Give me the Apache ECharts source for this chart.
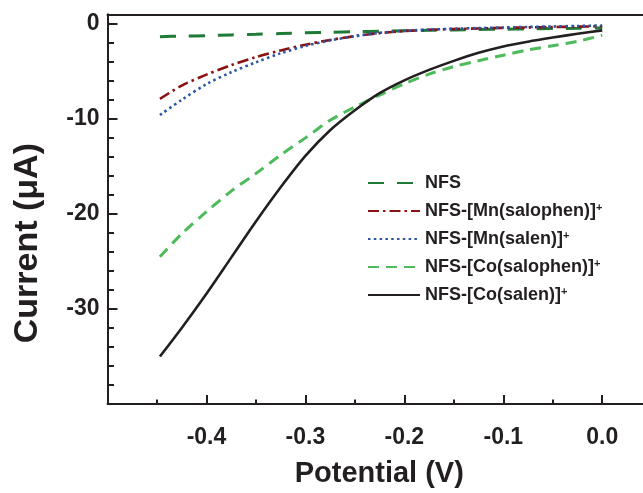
<!DOCTYPE html>
<html>
<head>
<meta charset="utf-8">
<script src="https://cdn.jsdelivr.net/npm/echarts@6/dist/echarts.min.js"></script>
<style>
html,body{margin:0;padding:0;background:#fff;overflow:hidden;}
#chart{width:643px;height:493px;}
</style>
</head>
<body>
<div id="chart"></div>
<script>
// ---- data ----
const potential = [-0.447, -0.425, -0.4, -0.375, -0.35, -0.325, -0.3, -0.275, -0.25, -0.225, -0.2, -0.175, -0.15, -0.125, -0.1, -0.075, -0.05, -0.025, 0];
const nfs        = [-1.35, -1.3, -1.25, -1.17, -1.1, -1.02, -0.95, -0.89, -0.83, -0.77, -0.72, -0.68, -0.64, -0.6, -0.57, -0.53, -0.5, -0.47, -0.43];
const mnSalophen = [-7.9, -6.5, -5.35, -4.35, -3.5, -2.8, -2.2, -1.7, -1.3, -0.98, -0.76, -0.63, -0.55, -0.49, -0.43, -0.38, -0.34, -0.3, -0.25];
const mnSalen    = [-9.6, -8.0, -6.35, -5.1, -4.05, -3.1, -2.33, -1.75, -1.3, -0.95, -0.74, -0.61, -0.52, -0.45, -0.39, -0.33, -0.28, -0.23, -0.18];
const coSalophen = [-24.5, -22.1, -19.77, -17.6, -15.75, -13.8, -12.0, -10.15, -8.75, -7.5, -6.3, -5.3, -4.5, -3.88, -3.3, -2.75, -2.3, -1.85, -1.2];
const coSalen    = [-35.0, -32.0, -28.4, -24.6, -20.8, -17.2, -13.9, -11.2, -9.1, -7.3, -5.95, -4.85, -3.9, -3.05, -2.38, -1.88, -1.45, -1.05, -0.69];
const seriesNames = ['NFS', 'NFS-[Mn(salophen)]', 'NFS-[Mn(salen)]', 'NFS-[Co(salophen)]', 'NFS-[Co(salen)]'];
// tick values
const xMajorTicks = [-0.4, -0.3, -0.2, -0.1, 0.0];
const xMinorTicks = [-0.45, -0.35, -0.25, -0.15, -0.05];
const yMajorTicks = [-30, -20, -10, 0];
const yMinorTicks = [-38, -36, -34, -32, -28, -26, -24, -22, -18, -16, -14, -12, -8, -6, -4, -2];
const xTitle = 'Potential (V)';
const yTitle = 'Current (\u03bcA)';

const ink = '#231f20';
const font = '"Liberation Sans", Arial, Helvetica, sans-serif';
const pair = vals => potential.map((x, i) => [x, vals[i]]);

const styles = [
  {color: '#1e7b37', width: 3, type: [16, 13]},
  {color: '#8b1111', width: 2.6, type: [11, 4, 2.5, 4]},
  {color: '#2b55a6', width: 2.6, type: [2.5, 3.3]},
  {color: '#4dbb5a', width: 3, type: [11, 7]},
  {color: ink, width: 2.6, type: 'solid'}
];
const values = [nfs, mnSalophen, mnSalen, coSalophen, coSalen];

const chart = echarts.init(document.getElementById('chart'), null, {renderer: 'canvas'});
const tickLabel = {fontSize: 23, fontWeight: 'bold', color: ink, fontFamily: font};
const X_MIN = -0.5, X_MAX = 0.0412, Y_MIN = -40, Y_MAX = 1;
const lineSt = {color: ink, width: 2};

chart.setOption({
  animation: false,
  backgroundColor: '#fff',
  grid: {left: 107.5, top: 14.3, bottom: 79.7, right: 0, containLabel: false},
  legend: {
    orient: 'vertical', left: 362, top: 169,
    itemWidth: 52, itemHeight: 18, itemGap: 10,
    selectedMode: false,
    data: seriesNames,
    itemStyle: {opacity: 0},
    formatter: n => n === 'NFS' ? '{t|' + n + '}' : '{t|' + n + '}{s|+}',
    textStyle: {
      color: ink, fontFamily: font, fontWeight: 'bold', fontSize: 18,
      rich: {
        t: {fontSize: 18, fontWeight: 'bold', color: ink, fontFamily: font, lineHeight: 18},
        s: {fontSize: 11, fontWeight: 'bold', color: ink, fontFamily: font, verticalAlign: 'top', lineHeight: 11}
      }
    }
  },
  xAxis: [
    {
      type: 'value', min: X_MIN, max: X_MAX, position: 'bottom',
      axisLine: {show: true, onZero: false, lineStyle: lineSt},
      axisTick: {show: true, inside: true, length: 9, lineStyle: lineSt, customValues: xMajorTicks},
      axisLabel: Object.assign({margin: 22, customValues: xMajorTicks, formatter: v => v.toFixed(1)}, tickLabel),
      splitLine: {show: false},
      name: xTitle, nameLocation: 'middle', nameGap: 55,
      nameTextStyle: {fontSize: 29, fontWeight: 'bold', color: ink, fontFamily: font, padding: [0, 0, 0, 8]}
    },
    {
      type: 'value', min: X_MIN, max: X_MAX, position: 'bottom',
      axisLine: {show: false, onZero: false},
      axisTick: {show: true, inside: true, length: 4.5, lineStyle: lineSt, customValues: xMinorTicks},
      axisLabel: {show: false}, splitLine: {show: false}
    },
    {
      type: 'value', min: X_MIN, max: X_MAX, position: 'top',
      axisLine: {show: true, onZero: false, lineStyle: lineSt},
      axisTick: {show: false}, axisLabel: {show: false}, splitLine: {show: false}
    }
  ],
  yAxis: [
    {
      type: 'value', min: Y_MIN, max: Y_MAX, position: 'left',
      axisLine: {show: true, onZero: false, lineStyle: lineSt},
      axisTick: {show: true, inside: true, length: 10, lineStyle: lineSt, customValues: yMajorTicks},
      axisLabel: Object.assign({margin: 8, customValues: yMajorTicks}, tickLabel),
      splitLine: {show: false},
      name: yTitle, nameLocation: 'middle', nameGap: 63,
      nameTextStyle: {fontSize: 34, fontWeight: 'bold', color: ink, fontFamily: font, padding: [0, 68, 0, 0]}
    },
    {
      type: 'value', min: Y_MIN, max: Y_MAX, position: 'left',
      axisLine: {show: false, onZero: false},
      axisTick: {show: true, inside: true, length: 6.5, lineStyle: lineSt, customValues: yMinorTicks},
      axisLabel: {show: false}, splitLine: {show: false}
    }
  ],
  series: seriesNames.map((name, i) => ({
    name: name,
    type: 'line',
    xAxisIndex: 0, yAxisIndex: 0,
    data: pair(values[i]),
    smooth: 0.3,
    symbol: 'none',
    color: styles[i].color,
    lineStyle: {color: styles[i].color, width: styles[i].width, type: styles[i].type},
    z: 2 + i
  }))
});
</script>
</body>
</html>
